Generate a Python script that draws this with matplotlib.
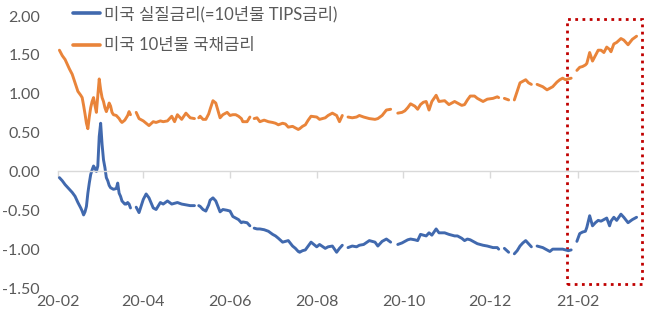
import matplotlib
matplotlib.use('Agg')
import matplotlib.pyplot as plt
import matplotlib.dates as mdates
import matplotlib.patches as patches
import numpy as np
import pandas as pd

plt.rcParams['font.family'] = ['Lato', 'Noto Sans CJK KR', 'DejaVu Sans']

# ---- data (None = holiday, line breaks there) ----
dates = [
    '2020-02-19', '2020-02-21', '2020-02-23', '2020-02-25', '2020-02-26', '2020-02-28',
    '2020-03-01', '2020-03-03', '2020-03-05', '2020-03-06', '2020-03-07', '2020-03-08', '2020-03-09', '2020-03-10',
    '2020-03-11', '2020-03-12', '2020-03-13', '2020-03-14', '2020-03-15', '2020-03-16', '2020-03-17', '2020-03-18',
    '2020-03-19', '2020-03-20', '2020-03-21', '2020-03-22', '2020-03-23', '2020-03-24', '2020-03-25', '2020-03-26',
    '2020-03-27', '2020-03-28', '2020-03-30', '2020-03-31', '2020-04-01', '2020-04-02', '2020-04-03', '2020-04-05',
    '2020-04-06', '2020-04-07', '2020-04-08', '2020-04-09', '2020-04-10',
    '2020-04-13', '2020-04-15', '2020-04-18', '2020-04-20', '2020-04-22', '2020-04-25', '2020-04-27', '2020-04-30',
    '2020-05-02', '2020-05-05', '2020-05-08', '2020-05-10', '2020-05-12', '2020-05-15', '2020-05-18', '2020-05-21',
    '2020-05-24', '2020-05-25',
    '2020-05-27', '2020-05-28', '2020-05-30', '2020-06-01', '2020-06-03', '2020-06-04', '2020-06-06', '2020-06-08',
    '2020-06-11', '2020-06-13', '2020-06-16', '2020-06-18', '2020-06-20', '2020-06-22', '2020-06-24', '2020-06-26',
    '2020-06-27', '2020-06-30', '2020-07-02', '2020-07-03',
    '2020-07-05', '2020-07-07', '2020-07-09', '2020-07-12', '2020-07-15', '2020-07-18', '2020-07-20', '2020-07-22',
    '2020-07-25', '2020-07-27', '2020-07-29', '2020-08-01', '2020-08-03', '2020-08-05', '2020-08-06', '2020-08-08',
    '2020-08-10', '2020-08-12', '2020-08-14', '2020-08-18', '2020-08-20', '2020-08-24', '2020-08-26', '2020-08-29',
    '2020-09-01', '2020-09-03', '2020-09-05', '2020-09-07',
    '2020-09-09', '2020-09-12', '2020-09-15', '2020-09-17', '2020-09-20', '2020-09-24', '2020-09-28', '2020-09-30',
    '2020-10-03', '2020-10-06', '2020-10-09', '2020-10-12',
    '2020-10-14', '2020-10-17', '2020-10-19', '2020-10-21', '2020-10-23', '2020-10-26', '2020-10-28', '2020-10-30',
    '2020-11-01', '2020-11-03', '2020-11-05', '2020-11-07', '2020-11-10', '2020-11-12', '2020-11-16', '2020-11-19',
    '2020-11-23', '2020-11-25', '2020-11-28', '2020-11-30', '2020-12-02', '2020-12-04', '2020-12-07', '2020-12-09',
    '2020-12-13', '2020-12-16', '2020-12-20', '2020-12-23', '2020-12-24', '2020-12-25',
    '2020-12-28', '2020-12-31', '2021-01-01', '2021-01-04', '2021-01-06', '2021-01-08', '2021-01-10', '2021-01-12',
    '2021-01-14', '2021-01-16', '2021-01-18', '2021-01-20', '2021-01-24', '2021-01-27', '2021-01-29', '2021-01-31',
    '2021-02-03', '2021-02-05', '2021-02-07', '2021-02-09', '2021-02-11', '2021-02-13', '2021-02-15', '2021-02-17',
    '2021-02-19', '2021-02-21', '2021-02-23', '2021-02-24', '2021-02-26', '2021-02-28', '2021-03-02', '2021-03-04',
    '2021-03-06', '2021-03-08', '2021-03-10', '2021-03-12', '2021-03-13', '2021-03-15', '2021-03-17', '2021-03-20',
    '2021-03-22', '2021-03-25', '2021-03-28', '2021-03-31',
]

nominal = [
    1.56, 1.49, 1.44, 1.36, 1.32, 1.25,
    1.14, 1.03, 0.98, 0.95, 0.85, 0.74, 0.62, 0.55,
    0.70, 0.82, 0.90, 0.95, 0.85, 0.76, 0.98, 1.19,
    1.05, 0.95, 0.90, 0.82, 0.77, 0.82, 0.88, 0.84,
    0.76, 0.73, 0.72, 0.70, 0.68, 0.65, 0.63, 0.66,
    0.69, 0.72, 0.77, 0.73, None,
    0.76, 0.68, 0.65, 0.62, 0.59, 0.64, 0.63, 0.65,
    0.64, 0.65, 0.71, 0.64, 0.73, 0.67, 0.75, 0.69,
    0.68, None,
    0.69, 0.71, 0.67, 0.67, 0.74, 0.80, 0.91, 0.88,
    0.69, 0.73, 0.76, 0.72, 0.73, 0.73, 0.71, 0.68,
    0.64, 0.64, 0.70, None,
    0.68, 0.69, 0.64, 0.66, 0.64, 0.63, 0.62, 0.60,
    0.62, 0.61, 0.57, 0.58, 0.56, 0.54, 0.55, 0.58,
    0.60, 0.66, 0.71, 0.70, 0.67, 0.69, 0.72, 0.75,
    0.72, 0.64, 0.72, None,
    0.70, 0.69, 0.70, 0.72, 0.70, 0.68, 0.67, 0.68,
    0.72, 0.79, 0.80, None,
    0.75, 0.76, 0.78, 0.82, 0.87, 0.84, 0.80, 0.86,
    0.89, 0.90, 0.79, 0.90, 0.98, 0.90, 0.91, 0.86,
    0.90, 0.88, 0.85, 0.86, 0.92, 0.97, 0.97, 0.94,
    0.90, 0.93, 0.94, 0.96, 0.95, None,
    0.94, 0.92, None, 0.92, 1.03, 1.14, 1.16, 1.18,
    1.14, 1.12, None, 1.12, 1.09, 1.05, 1.07, 1.09,
    1.15, 1.18, 1.20, 1.18, 1.19, 1.20, None, 1.30,
    1.34, 1.35, 1.37, 1.39, 1.53, 1.42, 1.49, 1.56,
    1.56, 1.53, 1.60, 1.57, 1.54, 1.64, 1.66, 1.71,
    1.69, 1.63, 1.70, 1.74,
]

real = [
    -0.08, -0.12, -0.17, -0.21, -0.23, -0.27,
    -0.32, -0.40, -0.47, -0.51, -0.56, -0.52, -0.45, -0.28,
    -0.15, -0.04, 0.02, 0.07, 0.04, 0.00, 0.07, 0.45,
    0.62, 0.35, 0.15, 0.05, -0.08, -0.12, -0.18, -0.21,
    -0.22, -0.23, -0.22, -0.15, -0.28, -0.32, -0.38, -0.42,
    -0.42, -0.40, -0.42, -0.47, None,
    -0.46, -0.53, -0.36, -0.29, -0.34, -0.47, -0.49, -0.40,
    -0.42, -0.38, -0.42, -0.41, -0.40, -0.42, -0.43, -0.44,
    -0.44, None,
    -0.44, -0.45, -0.49, -0.51, -0.43, -0.37, -0.34, -0.38,
    -0.52, -0.49, -0.50, -0.51, -0.58, -0.60, -0.62, -0.66,
    -0.65, -0.66, -0.70, None,
    -0.73, -0.74, -0.74, -0.75, -0.77, -0.81, -0.83, -0.86,
    -0.91, -0.90, -0.89, -0.96, -0.99, -1.03, -1.04, -1.02,
    -1.01, -0.96, -0.91, -0.97, -0.94, -0.99, -0.97, -0.96,
    -1.04, -0.99, -0.95, None,
    -0.98, -0.96, -0.97, -0.95, -0.94, -0.89, -0.91, -0.96,
    -0.90, -0.87, -0.91, None,
    -0.94, -0.92, -0.90, -0.88, -0.87, -0.88, -0.89, -0.81,
    -0.82, -0.83, -0.79, -0.82, -0.74, -0.79, -0.79, -0.81,
    -0.83, -0.83, -0.86, -0.89, -0.87, -0.88, -0.91, -0.93,
    -0.95, -0.96, -0.98, -0.98, -1.00, None,
    -0.99, -1.04, None, -1.06, -1.02, -0.96, -0.92, -0.89,
    -0.93, -0.97, None, -0.96, -0.98, -1.01, -1.03, -1.00,
    -1.00, -1.00, -1.00, -1.01, -1.02, -1.01, None, -0.90,
    -0.80, -0.78, -0.77, -0.72, -0.57, -0.70, -0.66, -0.63,
    -0.64, -0.62, -0.60, -0.70, -0.64, -0.59, -0.63, -0.55,
    -0.59, -0.66, -0.62, -0.59,
]

labels = ['미국 실질금리(=10년물 TIPS금리)', '미국 10년물 국채금리']
colors = ['#4169AE', '#E9843A']

tick_dates = ['2020-02-18', '2020-04-18', '2020-06-18', '2020-08-18',
              '2020-10-18', '2020-12-18', '2021-02-18']
tick_labels = ['20-02', '20-04', '20-06', '20-08', '20-10', '20-12', '21-02']
yticks = [2.0, 1.5, 1.0, 0.5, 0.0, -0.5, -1.0, -1.5]

# highlighted window (red dotted box)
box_start, box_end = '2021-02-10', '2021-04-04'
box_low, box_high = -1.45, 1.96

x = pd.to_datetime(dates)
nom = np.array(nominal, dtype=float)
rea = np.array(real, dtype=float)

fig = plt.figure(figsize=(6.48, 3.24), dpi=100)
ax = fig.add_axes([58 / 648, 1 - 288 / 324, 580 / 648, 272 / 324])

ax.plot(x, rea, color=colors[0], lw=2.1, label=labels[0], solid_capstyle='round')
ax.plot(x, nom, color=colors[1], lw=2.1, label=labels[1], solid_capstyle='round')

ax.set_ylim(-1.5, 2.0)
ax.set_xlim(pd.Timestamp('2020-02-18'), pd.Timestamp('2021-04-01'))
ax.set_yticks(yticks)
ax.set_yticklabels(['%.2f' % v for v in yticks])
ax.tick_params(axis='y', length=0, pad=13, labelsize=11.5, labelcolor='#595959')

for s in ['top', 'right', 'left']:
    ax.spines[s].set_visible(False)
# category axis crosses at zero, labels stay at the bottom
ax.spines['bottom'].set_position(('data', 0))
ax.spines['bottom'].set_color('#D9D9D9')
ax.spines['bottom'].set_linewidth(1.0)
ax.set_xticks(pd.to_datetime(tick_dates))
ax.tick_params(axis='x', length=5, width=1.0, color='#D9D9D9', labelbottom=False)

sec = ax.secondary_xaxis(0.0)
sec.set_xticks(pd.to_datetime(tick_dates))
sec.set_xticklabels(tick_labels)
sec.tick_params(length=0, pad=5, labelsize=11.5, labelcolor='#595959')
sec.spines['bottom'].set_visible(False)

x0 = mdates.date2num(pd.Timestamp(box_start))
x1 = mdates.date2num(pd.Timestamp(box_end))
rect = patches.Rectangle((x0, box_low), x1 - x0, box_high - box_low, fill=False,
                         edgecolor='#C00000', lw=2.0, linestyle=(0, (1, 1.6)), clip_on=False)
ax.add_patch(rect)

leg = ax.legend(loc='upper left', bbox_to_anchor=(73 / 648, 1 - 5.5 / 324),
                bbox_transform=fig.transFigure, frameon=False, fontsize=12,
                handlelength=1.6, handletextpad=0.25, borderpad=0, borderaxespad=0,
                labelspacing=0.92)
for t in leg.get_texts():
    t.set_color('#595959')
for h in leg.get_lines():
    h.set_linewidth(2.6)

fig.savefig('out.png', dpi=100)
